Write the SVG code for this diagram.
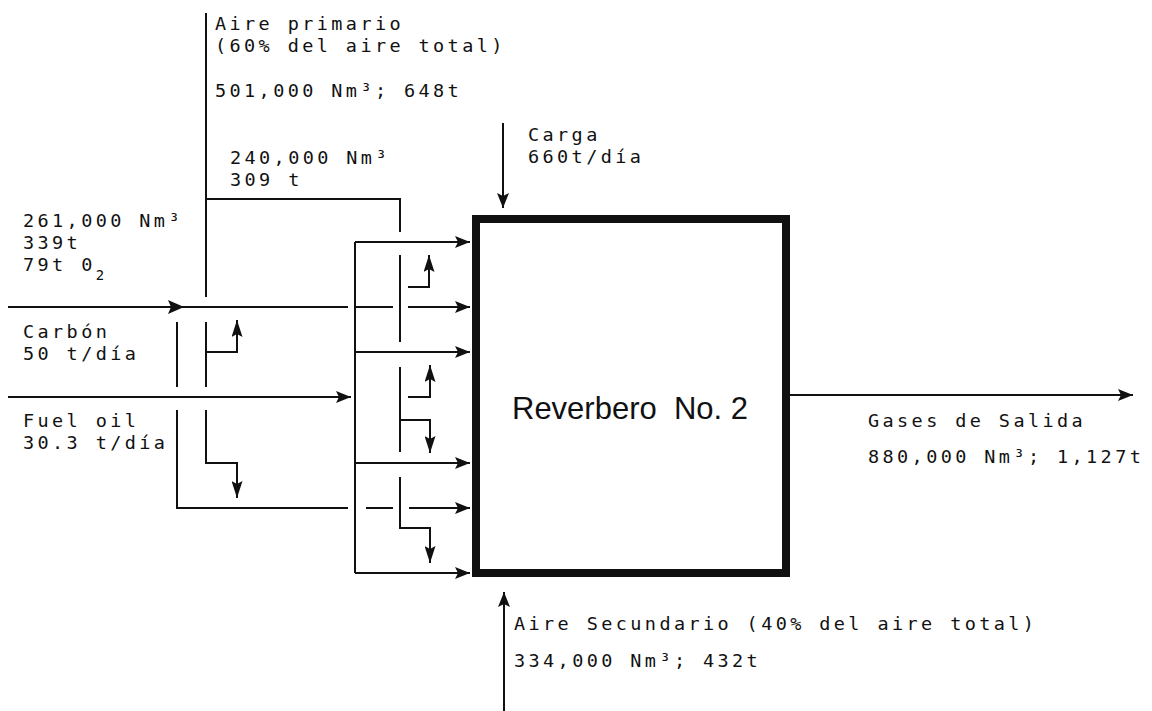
<svg xmlns="http://www.w3.org/2000/svg" width="1152" height="711" viewBox="0 0 1152 711">
<defs>
<marker id="a" markerUnits="userSpaceOnUse" markerWidth="15" markerHeight="12" viewBox="0 0 15 12" refX="15" refY="6" orient="auto"><path d="M0,0 L15,6 L0,12 L3,6 z" fill="#111"/></marker>
<marker id="s" markerUnits="userSpaceOnUse" markerWidth="17" markerHeight="11" viewBox="0 0 17 11" refX="17" refY="5.5" orient="auto"><path d="M0,0 L17,5.5 L0,11 L3,5.5 z" fill="#111"/></marker>
</defs>
<style>
.l{fill:none;stroke:#111;stroke-width:2}
.a{marker-end:url(#a)}
.s{marker-end:url(#s)}
.t{font-family:"DejaVu Sans Mono","Liberation Mono",monospace;font-size:18.5px;letter-spacing:3.4px;fill:#111}
.sub{font-size:14px}
.big{font-family:"Liberation Sans","DejaVu Sans",sans-serif;font-size:32px;fill:#111}
</style>
<rect width="1152" height="711" fill="#fff"/>

<g id="connectors">
  <path class="l" d="M206,13 V297"/>
  <path class="l" d="M206,199 H400 V232"/>
  <path class="l" d="M206,322 V387"/>
  <path class="l s" d="M206,352 H237 V320"/>
  <path class="l s" d="M206,410 V463 H237 V498"/>
  <path class="l" d="M177,322 V387"/>
  <path class="l" d="M177,410 V508 H348"/>
  <path class="l" d="M366,508 H393"/>
  <path class="l a" d="M409,508 H470"/>
  <path class="l" d="M8,307 H348"/>
  <polygon points="168,300 184,307 168,314 171,307" fill="#111"/>
  <path class="l" d="M355,307 H393"/>
  <path class="l a" d="M408,307 H470"/>
  <path class="l" d="M8,397 H174" stroke="#444" stroke-width="2.5"/>
  <path class="l a" d="M174,397 H351"/>
  <path class="l" d="M355,242 V573"/>
  <path class="l a" d="M355,242 H470"/>
  <path class="l a" d="M355,352 H470"/>
  <path class="l a" d="M355,463 H470"/>
  <path class="l a" d="M355,573 H470"/>
  <path class="l" d="M400,255 V342"/>
  <path class="l s" d="M408,287 H429 V255"/>
  <path class="l" d="M400,367 V452"/>
  <path class="l s" d="M408,397 H430 V365"/>
  <path class="l s" d="M400,420 H430 V453"/>
  <path class="l s" d="M400,477 V528 H430 V563"/>
  <path class="l a" d="M503,123 V208"/>
  <path class="l a" d="M504,711 V592"/>
  <path class="l a" d="M790,395 H1133"/>
</g>

<g id="reverbero">
  <rect x="476" y="219" width="310" height="354" fill="none" stroke="#111" stroke-width="8"/>
  <text class="big" x="512" y="419" textLength="236" lengthAdjust="spacingAndGlyphs" xml:space="preserve">Reverbero  No. 2</text>
</g>

<g id="aire-primario">
  <text class="t" x="215" y="30">Aire primario</text>
  <text class="t" x="215" y="52">(60% del aire total)</text>
  <text class="t" x="215" y="97">501,000 Nm³; 648t</text>
</g>

<g id="aire-rama">
  <text class="t" x="230" y="164">240,000 Nm³</text>
  <text class="t" x="230" y="186">309 t</text>
</g>

<g id="aire-entrada">
  <text class="t" x="23" y="227">261,000 Nm³</text>
  <text class="t" x="23" y="249">339t</text>
  <text class="t" x="23" y="271">79t 0<tspan class="sub" dy="9">2</tspan></text>
</g>

<g id="carbon">
  <text class="t" x="23" y="338">Carbón</text>
  <text class="t" x="23" y="360">50 t/día</text>
</g>

<g id="fuel-oil">
  <text class="t" x="23" y="427">Fuel oil</text>
  <text class="t" x="23" y="449">30.3 t/día</text>
</g>

<g id="carga">
  <text class="t" x="528" y="141">Carga</text>
  <text class="t" x="528" y="163">660t/día</text>
</g>

<g id="gases-salida">
  <text class="t" x="868" y="427">Gases de Salida</text>
  <text class="t" x="868" y="463">880,000 Nm³; 1,127t</text>
</g>

<g id="aire-secundario">
  <text class="t" x="514" y="630">Aire Secundario (40% del aire total)</text>
  <text class="t" x="514" y="667">334,000 Nm³; 432t</text>
</g>
</svg>
